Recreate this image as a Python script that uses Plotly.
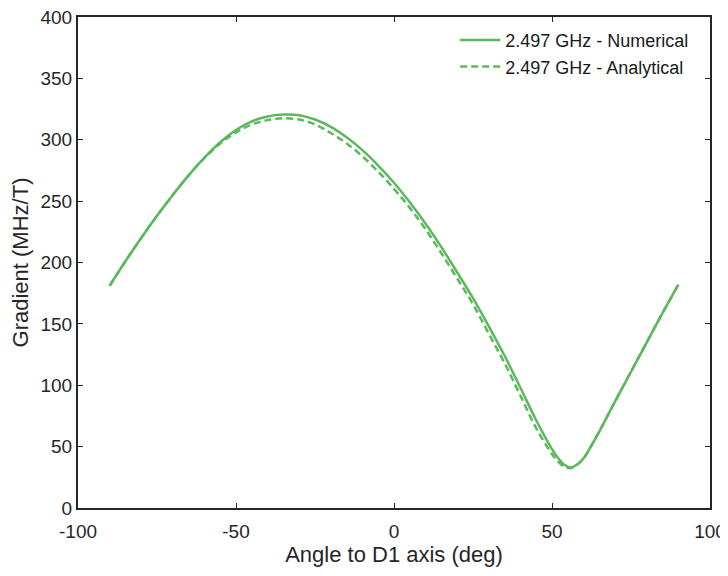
import plotly.graph_objects as go

angle_num = [-90, -85, -80, -75, -70, -65, -60, -55, -50, -45, -40, -35, -30, -25, -20, -15, -10, -5, 0,
             5, 10, 15, 20, 25, 30, 35, 40, 45, 50, 52, 54, 56, 58, 60, 62.5, 65, 70, 75, 80, 85, 90]
grad_num = [181, 201, 220, 238, 255, 271, 285.5, 298, 308, 315, 319, 320.5, 320, 316.5, 310.5, 302, 291.5, 279, 265,
            249, 231.5, 212.5, 192, 171, 148, 124, 98, 71.5, 48, 40.5, 35, 33, 35.5, 40.5, 51, 62.5, 87, 111, 135, 159, 182]

angle_ana = angle_num
grad_ana = [181, 201, 220, 238, 255, 271, 285, 297, 306, 312.5, 316, 317.5, 316.5, 312.5, 305.5, 297, 286.5, 274, 260,
            244.5, 227, 207.5, 187, 166, 142, 118, 91.5, 65, 44, 37.5, 33.5, 32.5, 35.5, 40.5, 51, 62.5, 87, 111, 135, 159, 182]

x_ticks = [-100, -50, 0, 50, 100]
x_tick_labels = ["-100", "-50", "0", "50", "100"]
y_ticks = [0, 50, 100, 150, 200, 250, 300, 350, 400]

green = "rgb(92,184,92)"
axis_col = "#262626"
font_family = "Liberation Sans, Arial, sans-serif"

fig = go.Figure()
fig.add_trace(go.Scatter(x=angle_num, y=grad_num, mode="lines", name="2.497 GHz - Numerical",
                         line=dict(color=green, width=2.5, shape="spline", smoothing=1.0)))
fig.add_trace(go.Scatter(x=angle_ana, y=grad_ana, mode="lines", name="2.497 GHz - Analytical",
                         line=dict(color=green, width=2.5, dash="7px,4px", shape="spline", smoothing=1.0)))

axis_common = dict(showline=True, linecolor=axis_col, linewidth=2, mirror="ticks",
                   ticks="inside", ticklen=5, tickcolor=axis_col, tickwidth=1.2,
                   showgrid=False, zeroline=False, automargin=False,
                   ticklabeloverflow="allow",
                   tickfont=dict(family=font_family, size=19, color=axis_col))

fig.update_xaxes(range=[-100, 100], tickvals=x_ticks, ticktext=x_tick_labels, ticklabelstandoff=5,
                 title=dict(text="Angle to D1 axis (deg)", font=dict(family=font_family, size=22, color=axis_col),
                            standoff=2),
                 **axis_common)
fig.update_yaxes(range=[0, 400], tickvals=y_ticks,
                 title=dict(text="Gradient (MHz/T)", font=dict(family=font_family, size=22, color=axis_col),
                            standoff=6),
                 **axis_common)

fig.update_layout(
    width=720, height=568,
    margin=dict(l=70, r=18, t=9, b=68),
    paper_bgcolor="white", plot_bgcolor="white",
    font=dict(family=font_family, color=axis_col),
    legend=dict(x=0.975, y=0.99, xanchor="right", yanchor="top",
                bgcolor="rgba(255,255,255,0)", borderwidth=0,
                font=dict(family=font_family, size=18, color="#1a1a1a"),
                tracegroupgap=0, itemwidth=40),
    showlegend=True,
)

fig.write_html("out.html")
